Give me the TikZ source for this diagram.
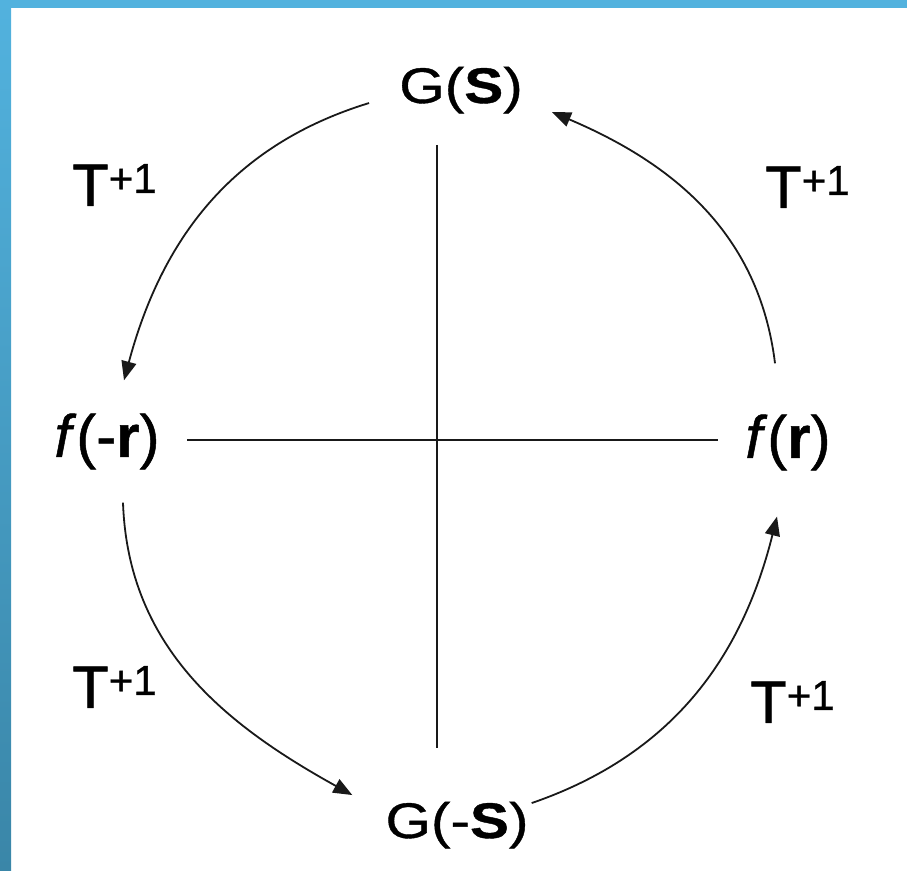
\documentclass[tikz,border=0pt]{standalone}
\usepackage{fontspec}
\setmainfont[FakeBold=0.8]{Liberation Sans}
\newfontfamily\gfont[FakeStretch=1.17,FakeBold=0.8]{Liberation Sans}
\usetikzlibrary{arrows.meta}
\definecolor{frameblue}{HTML}{52B2DE}
\definecolor{framedark}{HTML}{3A86A8}
\newcommand{\Tstep}{T\raisebox{13pt}{\fontsize{42}{42}\selectfont +1}}

\begin{document}
\begin{tikzpicture}[
  x=1pt, y=1pt,
  glabel/.style={inner sep=0pt, anchor=base, font=\gfont\fontsize{50}{60}\selectfont},
  flabel/.style={inner sep=0pt, anchor=base, font=\fontsize{60}{72}\selectfont},
  tlabel/.style={inner sep=0pt, anchor=base west, font=\fontsize{60}{72}\selectfont},
  axis/.style={line width=1.8pt, draw=black!90},
  cycle/.style={-{Triangle[length=19pt,width=15pt]}, line width=1.8pt, draw=black!90}
]
\useasboundingbox (0,0) rectangle (907,870);

% frame
\fill[frameblue] (0,862) rectangle (907,870);
\shade[top color=frameblue, bottom color=framedark] (0,0) rectangle (11,870);

\node[glabel] (gs) at (461,767) {G({\bfseries S})};
\node[glabel] (gms) at (457,32) {G(-{\bfseries S})};
\node[flabel] (fmr) at (107,413) {\textit{f}(-{\bfseries r})};
\node[flabel] (fr) at (788,412) {\textit{f}({\bfseries r})};

\node[tlabel] (t1) at (72,664) {\Tstep};
\node[tlabel] (t2) at (765,662) {\Tstep};
\node[tlabel] (t3) at (72,162) {\Tstep};
\node[tlabel] (t4) at (750,147) {\Tstep};

\coordinate (vtop) at (437,725);
\coordinate (vbot) at (437,122);
\coordinate (hleft) at (187,430);
\coordinate (hright) at (718,430);
\draw[axis] (vtop) -- (vbot);
\draw[axis] (hleft) -- (hright);

\draw[cycle] ([xshift=-30pt,yshift=-13pt]gs.west) to[out=197, in=75] ([xshift=17pt,yshift=33pt]fmr.north);
\draw[cycle] ([xshift=16pt,yshift=-33pt]fmr.south) to[out=272, in=151] ([xshift=-33pt,yshift=30pt]gms.west);
\draw[cycle] ([xshift=3pt,yshift=22pt]gms.east) to[out=19, in=256] ([xshift=-11pt,yshift=-46pt]fr.south);
\draw[cycle] ([xshift=-13pt,yshift=51pt]fr.north) to[out=97, in=337] ([xshift=29pt,yshift=-22pt]gs.east);

\end{tikzpicture}
\end{document}
